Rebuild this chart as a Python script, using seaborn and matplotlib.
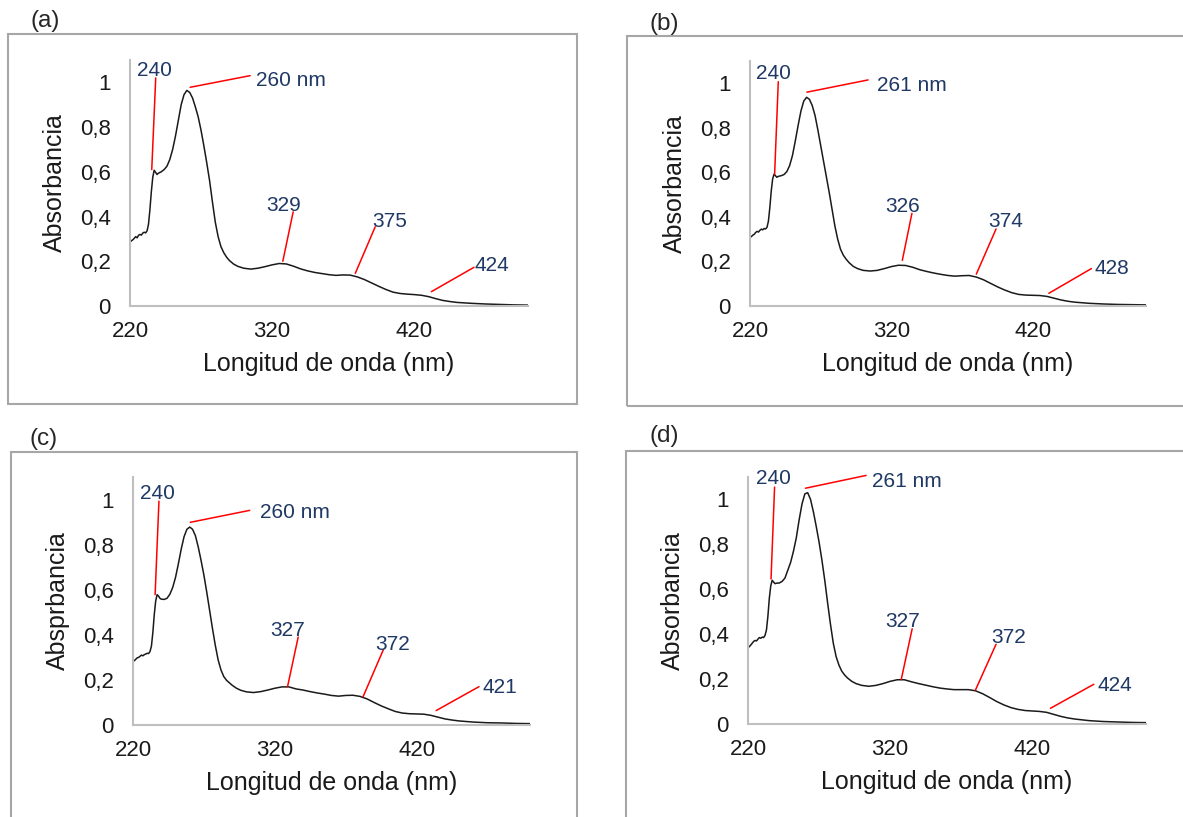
import matplotlib
matplotlib.use("Agg")
import matplotlib.pyplot as plt
from matplotlib.patches import Rectangle
from matplotlib.ticker import FuncFormatter
import seaborn as sns
import pandas as pd

# wavelength grid (nm), shared by the four spectra
wavelength = [220, 221, 222, 223, 224, 225, 226, 227, 228, 229, 230, 231, 232, 233, 234,
              235, 236, 237, 238, 239, 240,
              242, 244, 246, 248, 250, 252, 254, 256, 258, 260, 262, 264, 266, 268, 270,
              272, 274, 276, 278, 280, 282, 284, 286, 288, 290,
              293, 296,
              300, 305, 310, 315, 320, 325, 330, 335, 340, 345, 350, 355, 360, 365, 370,
              375, 380, 385, 390, 395, 400, 405, 410, 415, 420, 425, 430, 435, 440, 445, 450,
              460, 470, 480, 490, 500]

abs_a = [0.285, 0.292, 0.296, 0.303, 0.31, 0.305, 0.316, 0.32, 0.317, 0.326, 0.33, 0.327, 0.336, 0.365, 0.43,
         0.51, 0.575, 0.607, 0.598, 0.588, 0.594,
         0.60, 0.61, 0.625, 0.655, 0.70, 0.76, 0.83, 0.90, 0.945, 0.964, 0.955, 0.93, 0.89, 0.845, 0.785,
         0.715, 0.64, 0.56, 0.465, 0.375, 0.31, 0.265, 0.238, 0.218, 0.203,
         0.187, 0.177,
         0.169, 0.165, 0.169, 0.176, 0.184, 0.19, 0.188, 0.178, 0.166, 0.157, 0.15, 0.145, 0.14, 0.137, 0.139,
         0.138, 0.13, 0.118, 0.103, 0.088, 0.074, 0.062, 0.056, 0.053, 0.051, 0.048, 0.042, 0.033, 0.025, 0.02, 0.016,
         0.012, 0.009, 0.007, 0.005, 0.004]

abs_b = [0.308, 0.312, 0.318, 0.322, 0.33, 0.335, 0.332, 0.34, 0.345, 0.342, 0.348, 0.346, 0.353, 0.38, 0.44,
         0.515, 0.57, 0.592, 0.585, 0.578, 0.582,
         0.585, 0.59, 0.603, 0.63, 0.675, 0.74, 0.81, 0.875, 0.92, 0.937, 0.928, 0.9, 0.855, 0.79, 0.72,
         0.65, 0.58, 0.51, 0.435, 0.36, 0.30, 0.255, 0.228, 0.21, 0.195,
         0.178, 0.168,
         0.16, 0.157, 0.16, 0.168, 0.177, 0.183, 0.182, 0.174, 0.163, 0.155, 0.148, 0.142, 0.137, 0.134, 0.136,
         0.137, 0.13, 0.118, 0.102, 0.086, 0.072, 0.06, 0.052, 0.049, 0.048, 0.047, 0.043, 0.035, 0.027, 0.021, 0.017,
         0.012, 0.009, 0.007, 0.006, 0.005]

abs_c = [0.289, 0.285, 0.292, 0.298, 0.30, 0.305, 0.31, 0.307, 0.312, 0.315, 0.318, 0.317, 0.326, 0.35, 0.41,
         0.49, 0.55, 0.578, 0.572, 0.562, 0.558,
         0.557, 0.562, 0.58, 0.61, 0.655, 0.715, 0.78, 0.835, 0.868, 0.878, 0.868, 0.84, 0.79, 0.73, 0.665,
         0.59, 0.51, 0.43, 0.355, 0.29, 0.245, 0.215, 0.198, 0.187, 0.176,
         0.163, 0.154,
         0.147, 0.144, 0.148, 0.155, 0.163, 0.169, 0.169, 0.16, 0.155, 0.148, 0.142, 0.137, 0.131, 0.128, 0.131,
         0.132, 0.127, 0.116, 0.10, 0.085, 0.072, 0.06, 0.053, 0.05, 0.049, 0.048, 0.043, 0.035, 0.027, 0.022, 0.018,
         0.013, 0.01, 0.009, 0.007, 0.006]

abs_d = [0.34, 0.345, 0.352, 0.36, 0.368, 0.372, 0.37, 0.378, 0.385, 0.382, 0.387, 0.385, 0.395, 0.42, 0.48,
         0.56, 0.615, 0.64, 0.632, 0.625, 0.627,
         0.628, 0.635, 0.65, 0.685, 0.72, 0.77, 0.83, 0.91, 0.98, 1.025, 1.03, 1.0, 0.945, 0.88, 0.81,
         0.73, 0.64, 0.54, 0.445, 0.36, 0.30, 0.262, 0.235, 0.218, 0.205,
         0.19, 0.18,
         0.172, 0.168, 0.172, 0.18, 0.19, 0.197, 0.197, 0.188, 0.18, 0.173, 0.166, 0.16, 0.156, 0.153, 0.153,
         0.153, 0.148, 0.135, 0.118, 0.10, 0.085, 0.073, 0.065, 0.06, 0.058, 0.056, 0.052, 0.043, 0.034, 0.027, 0.022,
         0.015, 0.011, 0.009, 0.007, 0.006]

panel_letters = ["(a)", "(b)", "(c)", "(d)"]
ylabels = ["Absorbancia", "Absorbancia", "Absprbancia", "Absorbancia"]
xlabel = "Longitud de onda (nm)"
xticks = [220, 320, 420]
yticks = [0, 0.2, 0.4, 0.6, 0.8, 1]

peak_labels = [
    ["240", "260 nm", "329", "375", "424"],
    ["240", "261 nm", "326", "374", "428"],
    ["240", "260 nm", "327", "372", "421"],
    ["240", "261 nm", "327", "372", "424"],
]

# leader lines: (point x, point y, end x, end y, text x, text y, ha)
leaders = [
    [(235.3, 0.61, 238.1, 1.02, 237, 1.054, "center"),
     (262.3, 0.978, 304.5, 1.03, 308.5, 1.01, "left"),
     (327.5, 0.20, 334.8, 0.421, 328, 0.45, "center"),
     (378.5, 0.146, 392.5, 0.354, 402.5, 0.376, "center"),
     (432, 0.064, 462, 0.173, 474.7, 0.183, "center")],
    [(237.4, 0.59, 240, 1.007, 236.5, 1.044, "center"),
     (260.2, 0.96, 303.5, 1.015, 309.9, 0.988, "left"),
     (327.7, 0.205, 334.5, 0.416, 328, 0.446, "center"),
     (380, 0.143, 394, 0.346, 400.5, 0.379, "center"),
     (431.3, 0.057, 461.4, 0.168, 476, 0.169, "center")],
    [(235.6, 0.578, 238.3, 0.993, 237.5, 1.025, "center"),
     (260.4, 0.899, 302.3, 0.952, 309.8, 0.941, "left"),
     (329, 0.17, 336.5, 0.39, 329, 0.418, "center"),
     (382.3, 0.126, 396.5, 0.333, 403, 0.356, "center"),
     (433.8, 0.064, 464, 0.17, 479, 0.167, "center")],
    [(236.2, 0.646, 238.7, 1.055, 237.8, 1.094, "center"),
     (260.4, 1.05, 303.1, 1.107, 307.5, 1.079, "left"),
     (327.8, 0.198, 335.5, 0.424, 329, 0.457, "center"),
     (380, 0.151, 394.5, 0.355, 403.3, 0.387, "center"),
     (432.8, 0.07, 463.3, 0.177, 477.8, 0.173, "center")],
]

sns.set_style("white")
plt.rcParams["font.family"] = ["Liberation Sans", "DejaVu Sans"]

W, H = 1183, 817
fig = plt.figure(figsize=(W / 100, H / 100), dpi=100)

# pixel layout: axes box (left, top, right, bottom), frame box, letter position
axes_px = [(130, 60, 528, 306), (750, 61, 1146, 306), (133, 477, 530, 725), (748, 477, 1146, 724)]
frame_px = [(8, 34, 577, 404), (627, 35.5, 1190, 406), (11, 452, 577, 822), (626, 451, 1190, 822)]
letter_px = [(45, 21), (664, 24), (44, 439), (664, 436)]

navy = "#1f3864"
spectra = [abs_a, abs_b, abs_c, abs_d]

for i in range(4):
    fx0, fy0, fx1, fy1 = frame_px[i]
    fig.add_artist(Rectangle((fx0 / W, 1 - fy1 / H), (fx1 - fx0) / W, (fy1 - fy0) / H,
                             transform=fig.transFigure, fill=False, edgecolor="#a6a6a6",
                             linewidth=1.5, zorder=0))
    fig.text(letter_px[i][0] / W, 1 - letter_px[i][1] / H, panel_letters[i],
             fontsize=17.5, ha="center", va="center", zorder=5)

    x0, y0, x1, y1 = axes_px[i]
    ax = fig.add_axes([x0 / W, 1 - y1 / H, (x1 - x0) / W, (y1 - y0) / H])
    ax.patch.set_alpha(0)
    df = pd.DataFrame({"wl": wavelength, "A": spectra[i]})
    sns.lineplot(data=df, x="wl", y="A", ax=ax, color="#1a1a1a", linewidth=1.1)

    ax.set_xlim(220, 500)
    ax.set_ylim(0, 1.1)
    ax.set_xticks(xticks)
    ax.set_yticks(yticks)
    ax.yaxis.set_major_formatter(FuncFormatter(lambda v, p: f"{v:g}".replace(".", ",")))
    ax.tick_params(length=0, labelsize=16, colors="#1a1a1a")
    ax.tick_params(axis="y", pad=14)
    ax.tick_params(axis="x", pad=11)
    for s in ["top", "right"]:
        ax.spines[s].set_visible(False)
    for s in ["left", "bottom"]:
        ax.spines[s].set_color("#bfbfbf")
        ax.spines[s].set_linewidth(1.5)

    ax.set_xlabel(xlabel, fontsize=18, color="#1a1a1a", va="center")
    ax.set_ylabel(ylabels[i], fontsize=18, color="#1a1a1a", va="center")
    ax.xaxis.set_label_coords(0.5, -58 / (y1 - y0))
    ax.yaxis.set_label_coords(-75 / (x1 - x0), 0.5)

    for lab, (px, py, ex, ey, tx, ty, ha) in zip(peak_labels[i], leaders[i]):
        ax.plot([px, ex], [py, ey], color="red", linewidth=1.1, clip_on=False)
        ax.text(tx, ty, lab, color=navy, fontsize=15, ha=ha, va="center", clip_on=False)

fig.savefig("out.png", dpi=100)
